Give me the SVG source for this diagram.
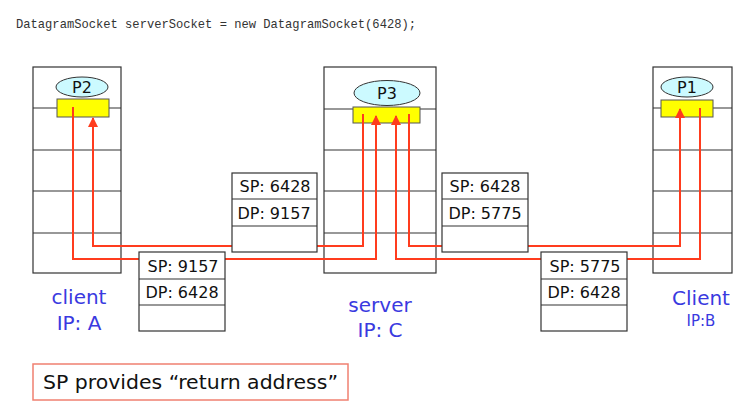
<svg xmlns="http://www.w3.org/2000/svg" width="752" height="410" viewBox="0 0 752 410">
<style>
.host{fill:#fff;stroke:#333;stroke-width:1.2}
.row{stroke:#333;stroke-width:1.2}
.proc{fill:#ccfaff;stroke:#333;stroke-width:1}
.sock{fill:#ffff00;stroke:#555;stroke-width:1}
.pkt{fill:#fff;stroke:#333;stroke-width:1.2}
.pt{font-family:"DejaVu Sans",Verdana,sans-serif;font-size:16px;fill:#111;text-anchor:middle}
.pn{font-family:"DejaVu Sans",Verdana,sans-serif;font-size:16px;fill:#111;text-anchor:middle}
.lbl{font-family:"DejaVu Sans",sans-serif;fill:#3a3ae0;text-anchor:middle}
.conn{fill:none;stroke:#ff3c1e;stroke-width:2}
</style>
<defs>
<marker id="ah" viewBox="0 0 10 10" refX="9" refY="5" markerWidth="5" markerHeight="5" orient="auto" markerUnits="strokeWidth">
<path d="M0,0 L10,5 L0,10 z" fill="#ff3c1e"/>
</marker>
</defs>
<text x="16" y="28" font-family="Liberation Mono,monospace" font-size="13.5" fill="#333" textLength="400" lengthAdjust="spacingAndGlyphs">DatagramSocket serverSocket = new DatagramSocket(6428);</text>

<g id="hostA">
<rect class="host" x="33" y="67" width="88" height="206"/>
<line class="row" x1="33" y1="108" x2="121" y2="108"/>
<line class="row" x1="33" y1="150" x2="121" y2="150"/>
<line class="row" x1="33" y1="191" x2="121" y2="191"/>
<line class="row" x1="33" y1="233" x2="121" y2="233"/>
<ellipse class="proc" cx="82" cy="87" rx="26" ry="10"/>
<text class="pn" x="82" y="93">P2</text>
<rect class="sock" x="57" y="99" width="52" height="18"/>
</g>
<g id="hostC">
<rect class="host" x="324" y="67" width="112" height="206"/>
<line class="row" x1="324" y1="109" x2="436" y2="109"/>
<line class="row" x1="324" y1="150" x2="436" y2="150"/>
<line class="row" x1="324" y1="191" x2="436" y2="191"/>
<line class="row" x1="324" y1="233" x2="436" y2="233"/>
<ellipse class="proc" cx="387" cy="93" rx="33" ry="12.5"/>
<text class="pn" x="387" y="99">P3</text>
<rect class="sock" x="353" y="107" width="67" height="16"/>
</g>
<g id="hostB">
<rect class="host" x="653" y="67" width="79" height="206"/>
<line class="row" x1="653" y1="108" x2="732" y2="108"/>
<line class="row" x1="653" y1="150" x2="732" y2="150"/>
<line class="row" x1="653" y1="191" x2="732" y2="191"/>
<line class="row" x1="653" y1="233" x2="732" y2="233"/>
<ellipse class="proc" cx="687" cy="87" rx="26" ry="10"/>
<text class="pn" x="687" y="93">P1</text>
<rect class="sock" x="661" y="100" width="52" height="17"/>
</g>

<g id="connectors">
<path class="conn" d="M73,107 V259 H376 V116" marker-end="url(#ah)"/>
<path class="conn" d="M363,114 V246 H93 V118" marker-end="url(#ah)"/>
<path class="conn" d="M409,114 V246 H680 V109" marker-end="url(#ah)"/>
<path class="conn" d="M700,108 V259 H396 V116" marker-end="url(#ah)"/>
</g>

<g id="pkt1">
<rect class="pkt" x="232" y="173" width="85" height="79"/>
<line class="row" x1="232" y1="199" x2="317" y2="199"/>
<line class="row" x1="232" y1="226" x2="317" y2="226"/>
<text class="pt" x="275" y="192">SP: 6428</text>
<text class="pt" x="274" y="219">DP: 9157</text>
</g>
<g id="pkt2">
<rect class="pkt" x="442" y="173" width="86" height="79"/>
<line class="row" x1="442" y1="199" x2="528" y2="199"/>
<line class="row" x1="442" y1="226" x2="528" y2="226"/>
<text class="pt" x="485" y="192">SP: 6428</text>
<text class="pt" x="485" y="219">DP: 5775</text>
</g>
<g id="pkt3">
<rect class="pkt" x="139" y="252" width="86" height="79"/>
<line class="row" x1="139" y1="279" x2="225" y2="279"/>
<line class="row" x1="139" y1="305" x2="225" y2="305"/>
<text class="pt" x="183" y="272">SP: 9157</text>
<text class="pt" x="182" y="298">DP: 6428</text>
</g>
<g id="pkt4">
<rect class="pkt" x="541" y="252" width="86" height="79"/>
<line class="row" x1="541" y1="279" x2="627" y2="279"/>
<line class="row" x1="541" y1="305" x2="627" y2="305"/>
<text class="pt" x="585" y="272">SP: 5775</text>
<text class="pt" x="584" y="298">DP: 6428</text>
</g>

<g id="labelA">
<text class="lbl" x="79" y="304" font-size="20">client</text>
<text class="lbl" x="79" y="330" font-size="20">IP: A</text>
</g>
<g id="labelC">
<text class="lbl" x="380" y="312" font-size="20">server</text>
<text class="lbl" x="380" y="337" font-size="20">IP: C</text>
</g>
<g id="labelB">
<text class="lbl" x="701" y="305" font-size="20">Client</text>
<text class="lbl" x="701" y="326" font-size="15">IP:B</text>
</g>

<g id="note">
<rect x="33" y="364" width="315" height="36" fill="#fff" stroke="#f08070" stroke-width="1.5"/>
<text x="43" y="389" font-family="DejaVu Sans,sans-serif" font-size="19.5" fill="#111" textLength="295" lengthAdjust="spacingAndGlyphs">SP provides “return address”</text>
</g>
</svg>
